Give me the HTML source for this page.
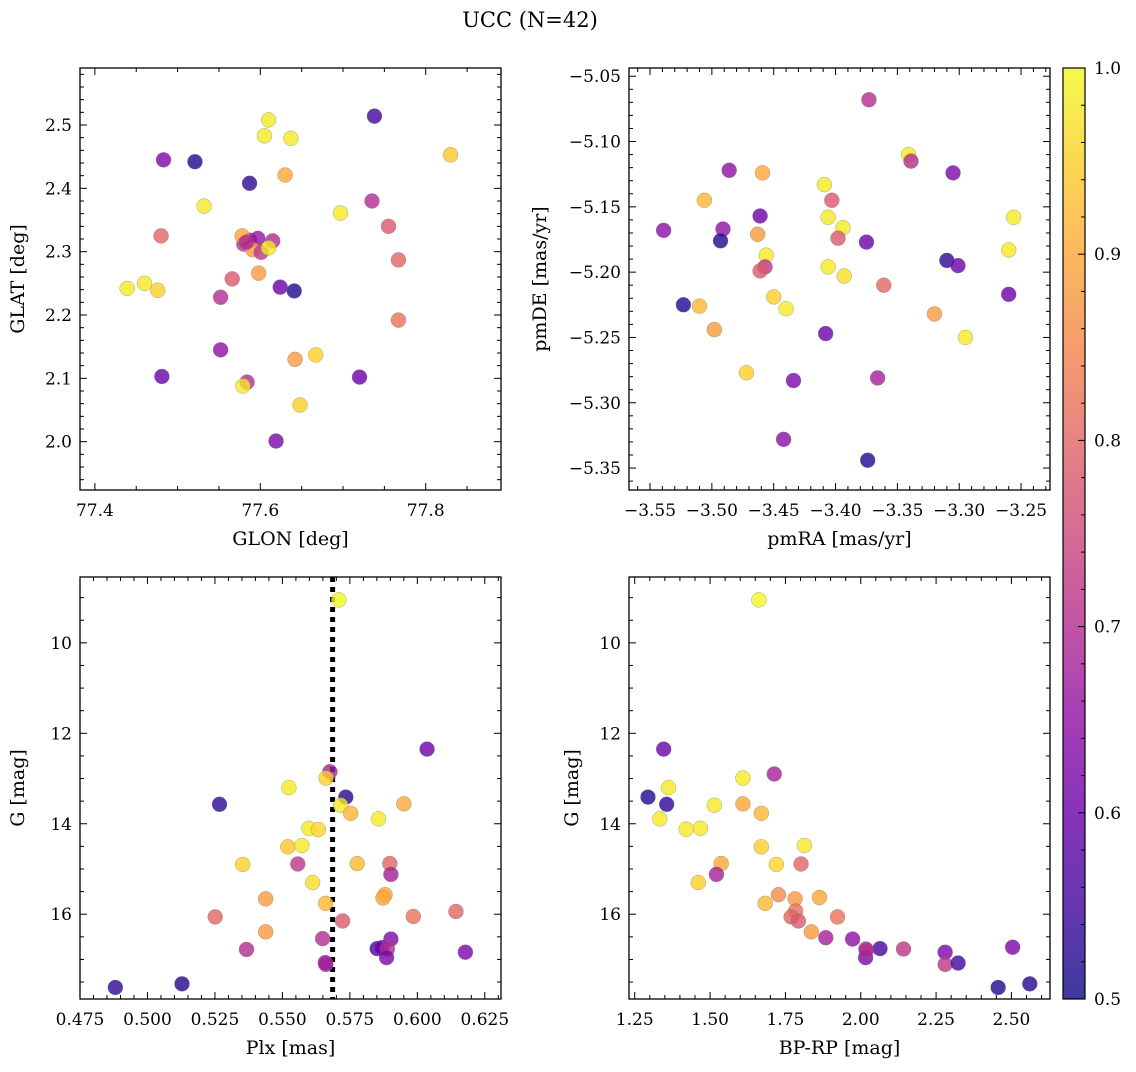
<!DOCTYPE html>
<html><head><meta charset="utf-8"><style>
html,body{margin:0;padding:0;background:#fff;}
svg text{font-family:"DejaVu Serif","Liberation Serif",serif;fill:#000;}
</style></head><body>
<svg id="fig" xmlns="http://www.w3.org/2000/svg" width="1136" height="1067" viewBox="0 0 1136 1067">
<text x="530" y="27" font-size="21" text-anchor="middle">UCC (N=42)</text>
<defs><linearGradient id="cbgrad" x1="0" y1="1" x2="0" y2="0">
<stop offset="0" stop-color="#0d0887"/><stop offset="0.1" stop-color="#41049d"/><stop offset="0.2" stop-color="#6a00a8"/><stop offset="0.3" stop-color="#8f0da4"/><stop offset="0.4" stop-color="#b12a90"/><stop offset="0.5" stop-color="#cc4778"/><stop offset="0.6" stop-color="#e16462"/><stop offset="0.7" stop-color="#f2844b"/><stop offset="0.8" stop-color="#fca636"/><stop offset="0.9" stop-color="#fcce25"/><stop offset="1" stop-color="#f0f921"/>
</linearGradient></defs>
</svg>
<script>
// Panel 1: GLON / GLAT
const glon=[77.483,77.521,77.610,77.605,77.637,77.738,77.830,77.587,77.630,77.532,77.697,77.735,77.480,77.580,77.587,77.597,77.615,77.578,77.591,77.601,77.610,77.755,77.767,77.439,77.460,77.476,77.566,77.598,77.624,77.641,77.552,77.767,77.552,77.642,77.667,77.481,77.720,77.584,77.579,77.648,77.619,77.583];
const glat=[2.445,2.442,2.508,2.483,2.479,2.514,2.453,2.408,2.421,2.372,2.361,2.380,2.325,2.312,2.318,2.321,2.317,2.325,2.303,2.299,2.306,2.340,2.287,2.242,2.250,2.239,2.257,2.266,2.244,2.238,2.228,2.192,2.145,2.130,2.137,2.103,2.102,2.094,2.088,2.058,2.001,2.315];
const prob1=[0.62,0.52,0.98,0.98,0.98,0.55,0.94,0.53,0.9,0.98,0.98,0.7,0.8,0.72,0.65,0.66,0.7,0.9,0.88,0.72,0.98,0.78,0.8,0.98,0.98,0.95,0.78,0.88,0.6,0.52,0.7,0.82,0.65,0.88,0.95,0.6,0.6,0.7,0.98,0.95,0.62,0.7];
// Panel 2: pmRA / pmDE
const pmra=[-3.373,-3.341,-3.339,-3.486,-3.459,-3.305,-3.409,-3.506,-3.403,-3.539,-3.491,-3.461,-3.406,-3.256,-3.394,-3.463,-3.493,-3.398,-3.375,-3.456,-3.260,-3.310,-3.301,-3.457,-3.461,-3.406,-3.393,-3.260,-3.450,-3.523,-3.510,-3.361,-3.440,-3.320,-3.498,-3.408,-3.295,-3.472,-3.434,-3.366,-3.442,-3.374];
const pmde=[-5.068,-5.110,-5.115,-5.122,-5.124,-5.124,-5.133,-5.145,-5.145,-5.168,-5.167,-5.157,-5.158,-5.158,-5.166,-5.171,-5.176,-5.174,-5.177,-5.187,-5.183,-5.191,-5.195,-5.196,-5.199,-5.196,-5.203,-5.217,-5.219,-5.225,-5.226,-5.210,-5.228,-5.232,-5.244,-5.247,-5.250,-5.277,-5.283,-5.281,-5.328,-5.344];
const prob2=[0.7,0.98,0.7,0.65,0.9,0.62,0.98,0.92,0.78,0.65,0.65,0.6,0.98,0.98,0.98,0.88,0.52,0.78,0.6,0.98,0.98,0.53,0.6,0.72,0.78,0.98,0.97,0.6,0.95,0.52,0.92,0.8,0.98,0.88,0.88,0.6,0.98,0.95,0.62,0.68,0.65,0.52];
// Panel 3: Plx / G
const plx=[0.5709,0.6036,0.5676,0.5662,0.5524,0.5735,0.5267,0.5716,0.5950,0.5753,0.5856,0.5598,0.5633,0.5520,0.5572,0.5353,0.5557,0.5777,0.5898,0.5902,0.5612,0.5880,0.5873,0.5438,0.5660,0.6143,0.5251,0.5985,0.5723,0.5438,0.5649,0.5902,0.5367,0.5851,0.5869,0.5889,0.6178,0.5886,0.5659,0.5661,0.5128,0.4881];
const gmag3=[9.05,12.35,12.85,12.99,13.20,13.41,13.57,13.59,13.56,13.77,13.89,14.10,14.13,14.51,14.48,14.90,14.89,14.88,14.88,15.12,15.30,15.57,15.64,15.66,15.76,15.94,16.06,16.05,16.15,16.39,16.54,16.55,16.78,16.76,16.74,16.77,16.84,16.96,17.07,17.11,17.54,17.62];
const prob3=[1.0,0.6,0.68,0.95,0.98,0.52,0.53,0.98,0.9,0.92,0.98,0.98,0.96,0.94,0.98,0.95,0.72,0.92,0.8,0.68,0.97,0.9,0.9,0.88,0.92,0.8,0.8,0.82,0.78,0.88,0.7,0.63,0.7,0.56,0.6,0.7,0.62,0.62,0.65,0.68,0.52,0.53];
const plxMean=[0.5686];
// Panel 4: BP-RP / G
const bprp=[1.662,1.346,1.713,1.609,1.362,1.294,1.356,1.514,1.609,1.670,1.333,1.421,1.468,1.670,1.813,1.537,1.720,1.802,1.521,1.461,1.727,1.782,1.863,1.683,1.784,1.769,1.793,1.923,1.836,1.884,1.973,2.017,2.064,2.142,2.016,2.280,2.280,2.323,2.504,2.456,2.561,2.019];
const gmag4=[9.05,12.35,12.90,12.99,13.20,13.41,13.57,13.59,13.56,13.77,13.89,14.12,14.10,14.51,14.48,14.88,14.90,14.89,15.12,15.30,15.57,15.66,15.63,15.76,15.93,16.06,16.15,16.06,16.39,16.52,16.55,16.77,16.76,16.77,16.96,16.84,17.11,17.08,16.73,17.62,17.54,16.80];
const prob4=[1.0,0.6,0.68,0.98,0.98,0.52,0.53,0.98,0.9,0.92,0.98,0.98,0.98,0.95,0.98,0.9,0.96,0.8,0.68,0.95,0.86,0.88,0.9,0.92,0.82,0.8,0.78,0.82,0.88,0.68,0.65,0.7,0.56,0.72,0.62,0.62,0.72,0.55,0.62,0.52,0.52,0.7];
// tick labels
const p1xTicks=[77.4,77.6,77.8], p1yTicks=[2.0,2.1,2.2,2.3,2.4,2.5];
const p2xTicks=[-3.55,-3.50,-3.45,-3.40,-3.35,-3.30,-3.25], p2yTicks=[-5.05,-5.10,-5.15,-5.20,-5.25,-5.30,-5.35];
const p3xTicks=[0.475,0.500,0.525,0.550,0.575,0.600,0.625], gTicks=[10,12,14,16];
const p4xTicks=[1.25,1.50,1.75,2.00,2.25,2.50];
const cbTicks=[0.5,0.6,0.7,0.8,0.9,1.0];

const NS="http://www.w3.org/2000/svg";
const svg=document.getElementById('fig');
function mk(tag,attrs,parent){const e=document.createElementNS(NS,tag);for(const k in attrs)e.setAttribute(k,attrs[k]);(parent||svg).appendChild(e);return e;}
const stops=[[13,8,135],[65,4,157],[106,0,168],[143,13,164],[177,42,144],[204,71,120],[225,100,98],[242,132,75],[252,166,54],[252,206,37],[240,249,33]];
function plasma(v){let t=(v-0.5)/0.5;t=Math.max(0,Math.min(1,t));const f=t*10,i=Math.min(9,Math.floor(f)),r=f-i;const a=stops[i],b=stops[i+1];return 'rgb('+a.map((c,j)=>Math.round(c+(b[j]-c)*r)).join(',')+')';}
function fmtMinus(s){return s.replace('-','\u2212');}

function panel(cfg){
  const g=mk('g',{});
  
  
  const {x0,y0,w,h,xmin,xmax,ymin,ymax,inv}=cfg;
  const sx=v=>x0+(v-xmin)/(xmax-xmin)*w;
  const sy=v=>inv? y0+(v-ymin)/(ymax-ymin)*h : y0+h-(v-ymin)/(ymax-ymin)*h;
  if(cfg.vline!==undefined){
    const l=mk('line',{x1:sx(cfg.vline),x2:sx(cfg.vline),y1:y0,y2:y0+h,stroke:'#000','stroke-width':5,'stroke-dasharray':'5,5'},g);
    
    
  }
  cfg.xs.forEach((xv,i)=>{
    const c=mk('circle',{cx:sx(xv),cy:sy(cfg.ys[i]),r:7.5,fill:plasma(cfg.pr[i]),'fill-opacity':0.8,stroke:'#777','stroke-width':0.5,'stroke-opacity':0.6},g);
    
    
  });
  const fr=mk('rect',{x:x0,y:y0,width:w,height:h,fill:'none',stroke:'#000','stroke-width':1.3},g);
  
  
  const eps=1e-9;
  for(let v=Math.ceil(xmin/cfg.xminor-eps)*cfg.xminor; v<=xmax+eps; v+=cfg.xminor){
    const px=sx(v);const major=Math.abs(v/cfg.xmajor-Math.round(v/cfg.xmajor))<1e-6;const L=major?7:4;
    mk('line',{x1:px,x2:px,y1:y0+h,y2:y0+h-L,stroke:'#000','stroke-width':1},g);
    mk('line',{x1:px,x2:px,y1:y0,y2:y0+L,stroke:'#000','stroke-width':1},g);
  }
  for(let v=Math.ceil(Math.min(ymin,ymax)/cfg.yminor-eps)*cfg.yminor; v<=Math.max(ymin,ymax)+eps; v+=cfg.yminor){
    const py=sy(v);const major=Math.abs(v/cfg.ymajor-Math.round(v/cfg.ymajor))<1e-6;const L=major?7:4;
    mk('line',{x1:x0,x2:x0+L,y1:py,y2:py,stroke:'#000','stroke-width':1},g);
    mk('line',{x1:x0+w,x2:x0+w-L,y1:py,y2:py,stroke:'#000','stroke-width':1},g);
  }
  cfg.xt.forEach(v=>{
    const t=mk('text',{x:sx(v),y:y0+h+26,'font-size':17,'text-anchor':'middle'},g);
    t.textContent=fmtMinus(v.toFixed(cfg.xd));
    
    
  });
  cfg.yt.forEach(v=>{
    const t=mk('text',{x:x0-8,y:sy(v)+6,'font-size':17,'text-anchor':'end'},g);
    t.textContent=fmtMinus(v.toFixed(cfg.yd));
    
    
  });
  const xl=mk('text',{x:x0+w/2,y:y0+h+55,'font-size':19,'text-anchor':'middle'},g);
  xl.textContent=cfg.xlabel;
  
  
  const yl=mk('text',{x:cfg.ylx,y:y0+h/2,'font-size':19,'text-anchor':'middle',transform:'rotate(-90 '+cfg.ylx+' '+(y0+h/2)+')'},g);
  yl.textContent=cfg.ylabel;
  
  
}

panel({name:'glon-glat-panel',x0:80,y0:68,w:421,h:422,xmin:77.382,xmax:77.891,ymin:1.9237,ymax:2.590,xs:glon,ys:glat,pr:prob1,xmajor:0.2,xminor:0.05,ymajor:0.1,yminor:0.02,xt:p1xTicks,yt:p1yTicks,xd:1,yd:1,xlabel:'GLON [deg]',ylabel:'GLAT [deg]',ylx:24});
panel({name:'proper-motion-panel',x0:629,y0:68,w:421,h:422,xmin:-3.567,xmax:-3.2266,ymin:-5.3668,ymax:-5.0437,xs:pmra,ys:pmde,pr:prob2,xmajor:0.05,xminor:0.01,ymajor:0.05,yminor:0.01,xt:p2xTicks,yt:p2yTicks,xd:2,yd:2,xlabel:'pmRA [mas/yr]',ylabel:'pmDE [mas/yr]',ylx:546});
panel({name:'parallax-magnitude-panel',x0:80,y0:577,w:421,h:422,xmin:0.475,xmax:0.631,ymin:8.544,ymax:17.875,inv:true,xs:plx,ys:gmag3,pr:prob3,xmajor:0.025,xminor:0.005,ymajor:2,yminor:0.5,xt:p3xTicks,yt:gTicks,xd:3,yd:0,xlabel:'Plx [mas]',ylabel:'G [mag]',ylx:24,vline:plxMean[0]});
panel({name:'color-magnitude-panel',x0:629,y0:577,w:421,h:422,xmin:1.231,xmax:2.628,ymin:8.544,ymax:17.875,inv:true,xs:bprp,ys:gmag4,pr:prob4,xmajor:0.25,xminor:0.05,ymajor:2,yminor:0.5,xt:p4xTicks,yt:gTicks,xd:2,yd:0,xlabel:'BP-RP [mag]',ylabel:'G [mag]',ylx:578});

const cb=mk('g',{});


const cbx=1063,cby=68,cbw=22,cbh=931;
mk('rect',{x:cbx,y:cby,width:cbw,height:cbh,fill:'url(#cbgrad)','fill-opacity':0.8},cb);
mk('rect',{x:cbx,y:cby,width:cbw,height:cbh,fill:'none',stroke:'#000','stroke-width':1.2},cb);
const cy=v=>cby+cbh-(v-0.5)/0.5*cbh;
for(let v=0.5;v<=1.0001;v+=0.02){
  const major=Math.abs(v*10-Math.round(v*10))<1e-6;const L=major?7:4;
  mk('line',{x1:cbx+cbw,x2:cbx+cbw-L,y1:cy(v),y2:cy(v),stroke:'#000','stroke-width':1},cb);
}
cbTicks.forEach(v=>{
  const t=mk('text',{x:cbx+cbw+9,y:cy(v)+6,'font-size':17},cb);
  t.textContent=v.toFixed(1);
  
  
});
</script>
</body></html>
